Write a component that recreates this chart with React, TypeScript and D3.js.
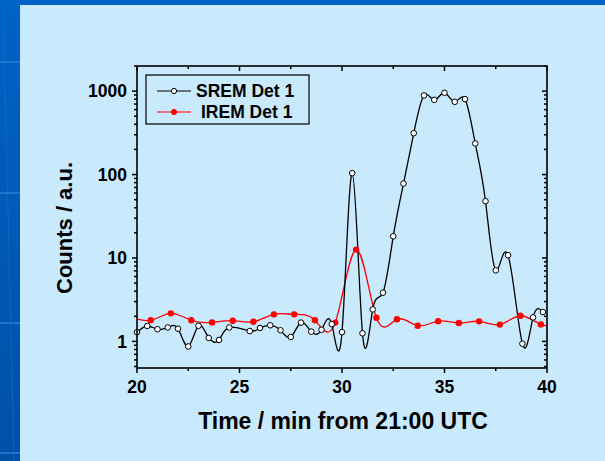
import React, { useRef, useEffect } from 'react';
import * as d3 from 'd3';

// SREM detector 1 (open circles)
const sremTime = [20, 20.5, 21, 21.5, 22, 22.5, 23, 23.5, 24, 24.5, 25.5, 26, 26.5, 27, 27.5, 28, 28.5, 29, 29.5, 30,
  30.5, 31, 31.5, 32, 32.5, 33, 33.5, 34, 34.5, 35, 35.5, 36, 36.5, 37, 37.5, 38.1, 38.8, 39.32, 39.8];
const sremCounts = [1.29, 1.53, 1.4, 1.47, 1.42, 0.87, 1.54, 1.1, 1.04, 1.47, 1.33, 1.45, 1.56, 1.36, 1.13, 1.68, 1.31, 1.38, 1.61, 1.29,
  104, 1.25, 2.42, 3.84, 18.2, 78, 313, 888, 786, 955, 744, 802, 236, 47.9, 7.11, 10.8, 0.94, 1.94, 2.25];

// IREM detector 1 (filled circles); first and last points lie outside the axis range
const iremTime = [19.67, 20.67, 21.65, 22.65, 23.66, 24.67, 25.68, 26.68, 27.67, 28.68, 29.67, 30.69, 31.68, 32.68,
  33.69, 34.69, 35.7, 36.69, 37.7, 38.7, 39.7, 40.7];
const iremCounts = [1.95, 1.79, 2.17, 1.79, 1.69, 1.77, 1.72, 2.11, 2.11, 1.79, 1.68, 12.6, 1.92, 1.84,
  1.54, 1.75, 1.66, 1.74, 1.59, 2.03, 1.6, 1.55];

const xMajor = [20, 25, 30, 35, 40];
const xMinor = [22.5, 27.5, 32.5, 37.5];
const yMajor = [1, 10, 100, 1000];
const yMinor = [0.5, 0.6, 0.7, 0.8, 0.9, 2, 3, 4, 5, 6, 7, 8, 9, 20, 30, 40, 50, 60, 70, 80, 90,
  200, 300, 400, 500, 600, 700, 800, 900, 2000];

const legendNames = ['SREM Det 1', 'IREM Det 1'];

const App = () => {
  const svgRef = useRef(null);
  const width = 605;
  const height = 461;

  useEffect(() => {
    const svg = d3.select(svgRef.current);
    svg.selectAll('*').remove();

    const left = 137, right = 547, top = 66, bottom = 368;
    const font = '"Liberation Sans", Arial, sans-serif';

    // slide background
    const defs = svg.append('defs');
    const grad = defs.append('linearGradient').attr('id', 'strip')
      .attr('x1', 0).attr('y1', 0).attr('x2', 0).attr('y2', 1);
    grad.append('stop').attr('offset', '0%').attr('stop-color', '#0062c6');
    grad.append('stop').attr('offset', '100%').attr('stop-color', '#0050a6');
    defs.append('clipPath').attr('id', 'plotClip')
      .append('rect').attr('x', left).attr('y', top).attr('width', right - left).attr('height', bottom - top);

    svg.append('rect').attr('width', width).attr('height', height).attr('fill', 'url(#strip)');
    svg.append('rect').attr('x', 0).attr('y', 0).attr('width', width).attr('height', 5).attr('fill', '#0062c6');
    [62, 193, 323, 453].forEach(yy => {
      svg.append('line').attr('x1', 0).attr('x2', 20).attr('y1', yy).attr('y2', yy)
        .attr('stroke', '#2a7fd8').attr('stroke-width', 1.5);
    });
    svg.append('line').attr('x1', 3).attr('y1', 5).attr('x2', 14).attr('y2', 461)
      .attr('stroke', '#1a6fcc').attr('stroke-width', 1).attr('opacity', 0.6);
    svg.append('rect').attr('x', 20).attr('y', 5).attr('width', width - 20).attr('height', height - 5)
      .attr('fill', '#c9e9fd');

    const xScale = d3.scaleLinear().domain([20, 40]).range([left, right]);
    const yScale = d3.scaleLog().domain([0.48, 2000]).range([bottom, top]);

    const line = d3.line()
      .x(d => xScale(d[0]))
      .y(d => yScale(d[1]))
      .curve(d3.curveNatural);

    const srem = sremTime.map((t, i) => [t, sremCounts[i]]);
    const irem = iremTime.map((t, i) => [t, iremCounts[i]]);
    const inside = d => d[0] >= 20 && d[0] <= 40;

    const plot = svg.append('g').attr('clip-path', 'url(#plotClip)');
    plot.append('path').datum(irem).attr('d', line)
      .attr('fill', 'none').attr('stroke', '#ff0000').attr('stroke-width', 1.3);
    plot.append('path').datum(srem).attr('d', line)
      .attr('fill', 'none').attr('stroke', '#000').attr('stroke-width', 1.3);

    svg.selectAll('.irem-dot').data(irem.filter(inside)).enter().append('circle')
      .attr('class', 'irem-dot')
      .attr('cx', d => xScale(d[0])).attr('cy', d => yScale(d[1]))
      .attr('r', 3.2).attr('fill', '#ff0000');
    svg.selectAll('.srem-dot').data(srem.filter(inside)).enter().append('circle')
      .attr('class', 'srem-dot')
      .attr('cx', d => xScale(d[0])).attr('cy', d => yScale(d[1]))
      .attr('r', 2.8).attr('fill', '#fff').attr('stroke', '#000').attr('stroke-width', 1);

    // frame
    svg.append('rect').attr('x', left).attr('y', top).attr('width', right - left).attr('height', bottom - top)
      .attr('fill', 'none').attr('stroke', '#000').attr('stroke-width', 1.6);

    const ticks = svg.append('g').attr('stroke', '#000').attr('stroke-width', 1.5);
    const xTick = (v, len) => {
      ticks.append('line').attr('x1', xScale(v)).attr('x2', xScale(v)).attr('y1', bottom).attr('y2', bottom + len);
      ticks.append('line').attr('x1', xScale(v)).attr('x2', xScale(v)).attr('y1', top).attr('y2', top + len);
    };
    xMajor.forEach(v => xTick(v, 5));
    xMinor.forEach(v => xTick(v, 3));
    const yTick = (v, len) => {
      ticks.append('line').attr('y1', yScale(v)).attr('y2', yScale(v)).attr('x1', left).attr('x2', left - len);
      ticks.append('line').attr('y1', yScale(v)).attr('y2', yScale(v)).attr('x1', right).attr('x2', right - len);
    };
    yMajor.forEach(v => yTick(v, 5));
    yMinor.forEach(v => yTick(v, 3));

    // tick labels
    svg.selectAll('.xlab').data(xMajor).enter().append('text')
      .attr('x', d => xScale(d)).attr('y', 393)
      .attr('text-anchor', 'middle').attr('font-family', font).attr('font-weight', 'bold').attr('font-size', 17.5)
      .text(d => d);
    svg.selectAll('.ylab').data(yMajor).enter().append('text')
      .attr('x', 127).attr('y', d => yScale(d) + 6.3)
      .attr('text-anchor', 'end').attr('font-family', font).attr('font-weight', 'bold').attr('font-size', 17.5)
      .text(d => d);

    // axis titles
    svg.append('text').attr('x', 343).attr('y', 429).attr('text-anchor', 'middle')
      .attr('font-family', font).attr('font-weight', 'bold').attr('font-size', 23)
      .text('Time / min from 21:00 UTC');
    svg.append('text').attr('transform', 'translate(72,228) rotate(-90)').attr('text-anchor', 'middle')
      .attr('font-family', font).attr('font-weight', 'bold').attr('font-size', 22)
      .text('Counts / a.u.');

    // legend
    const lg = svg.append('g');
    lg.append('rect').attr('x', 146).attr('y', 75).attr('width', 163).attr('height', 49)
      .attr('fill', '#c9e9fd').attr('stroke', '#000').attr('stroke-width', 1.2);
    const rows = [
      { y: 91, color: '#000', fill: '#fff', tx: 196 },
      { y: 112, color: '#ff0000', fill: '#ff0000', tx: 201 },
    ];
    rows.forEach((r, i) => {
      lg.append('line').attr('x1', 157).attr('x2', 191).attr('y1', r.y).attr('y2', r.y)
        .attr('stroke', r.color).attr('stroke-width', 1.2);
      lg.append('circle').attr('cx', 174).attr('cy', r.y).attr('r', 2.6)
        .attr('fill', r.fill).attr('stroke', r.color).attr('stroke-width', 1);
      lg.append('text').attr('x', r.tx).attr('y', r.y + 6.3)
        .attr('font-family', font).attr('font-weight', 'bold').attr('font-size', 17.5)
        .text(legendNames[i]);
    });
  }, []);

  return (
    <div>
      <style>{`body { margin: 0; }`}</style>
      <svg ref={svgRef} width={width} height={height} style={{ display: 'block' }} />
    </div>
  );
};

export default App;
